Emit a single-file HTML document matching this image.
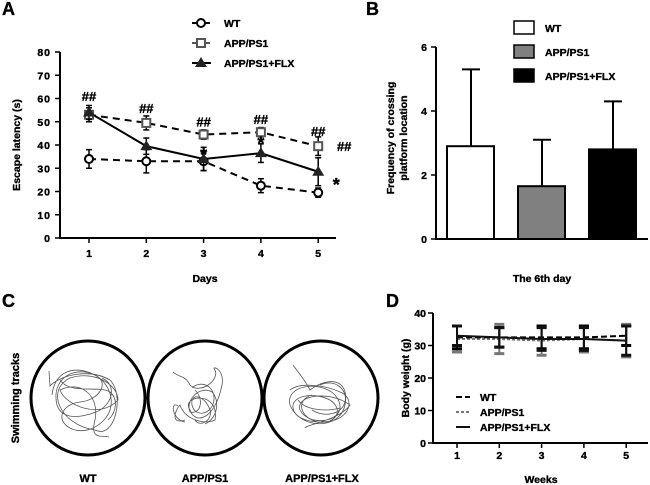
<!DOCTYPE html>
<html><head><meta charset="utf-8"><style>
body{margin:0;background:#fff;}
svg{display:block;font-family:"Liberation Sans",Arial,sans-serif;font-weight:bold;}
svg text{stroke:#000;stroke-width:0.35px;}
</style></head><body>
<svg id="fig" width="650" height="485" viewBox="0 0 650 485" xmlns="http://www.w3.org/2000/svg">
<text x="2" y="15" font-size="18" font-weight="900" stroke-width="1">A</text>
<text x="366" y="15" font-size="18" font-weight="900" stroke-width="1">B</text>
<text x="2" y="307" font-size="18" font-weight="900" stroke-width="1">C</text>
<text x="386" y="307" font-size="18" font-weight="900" stroke-width="1">D</text>
<g id="pa"></g>
<g id="pb"></g>
<g id="pc">
<text transform="translate(19,398) rotate(-90)" text-anchor="middle" font-size="11">Swimming tracks</text>
<circle cx="88" cy="398" r="57" fill="none" stroke="#000" stroke-width="3"/>
<circle cx="205" cy="398" r="57" fill="none" stroke="#000" stroke-width="3"/>
<circle cx="321" cy="398" r="57" fill="none" stroke="#000" stroke-width="3"/>
<path d="M49,371 L50,386 C60,375 90,368 110,380 C125,395 115,440 95,430 C60,425 45,390 70,378 C95,370 118,385 118,400 C100,420 65,405 60,390 C80,380 100,395 95,420 C90,440 100,435 109,437 M52,395 C55,370 75,365 95,375 C110,382 100,400 80,402 C62,404 55,420 70,428 C85,436 105,425 110,410 C115,395 105,375 85,372 C65,370 52,385 57,405 C62,420 80,418 96,412 C112,406 118,385 102,378 M60,380 C70,395 100,385 110,392 C118,398 117,412 108,420" fill="none" stroke="#555" stroke-width="0.8"/>
<path d="M173,372 C180,378 185,375 190,385 C200,395 220,380 215,370 C210,365 225,368 222,385 C215,420 195,425 190,410 C180,395 220,390 215,420 C205,425 185,420 180,405 C175,410 170,425 185,420 M192,388 C200,380 215,385 214,400 C212,415 195,418 192,405 C190,392 205,395 210,410 C213,420 200,428 195,420 M178,406 C170,400 172,420 185,422 M195,390 C205,400 200,415 190,412 C185,400 200,385 212,392 C220,400 218,418 205,424" fill="none" stroke="#555" stroke-width="0.8"/>
<path d="M293,365 C300,375 305,380 310,390 C330,375 350,380 345,405 C340,430 300,430 290,405 C285,385 320,380 335,395 C355,420 310,430 300,410 C295,395 330,390 350,405 C340,420 305,425 305,428 M290,390 C300,382 325,385 340,392 C355,398 350,415 335,420 C315,425 295,420 293,408 C291,395 315,392 330,400 C345,410 335,425 318,422 C300,418 295,400 312,395 M320,385 C335,378 348,390 345,402 C342,414 325,418 312,410 M298,400 C305,410 325,412 340,408" fill="none" stroke="#555" stroke-width="0.8"/>
<text x="88" y="482" text-anchor="middle" font-size="11">WT</text>
<text x="205" y="482" text-anchor="middle" font-size="11">APP/PS1</text>
<text x="322" y="482" text-anchor="middle" font-size="11">APP/PS1+FLX</text>
</g>
<g id="pd"></g>
</svg>
<script>
// Panel A data
const aDays = [1,2,3,4,5];
const aYTicks = [0,10,20,30,40,50,60,70,80];
const aWT = [34,33,33,22.5,19.5];
const aWTerr = [4,5,4,3,2];
const aAPP = [53,49.5,44.5,45.5,39.5];
const aAPPerr = [3,3,2,2,4];
const aFLX = [54,39.5,34,36.5,28.5];
const aFLXerr = [3,3.5,5,4,6];
// Panel B data
const bGroups = ["WT","APP/PS1","APP/PS1+FLX"];
const bMeans = [2.9,1.65,2.8];
const bErr = [2.4,1.45,1.5];
const bYTicks = [0,2,4,6];
// Panel D data
const dWeeks = [1,2,3,4,5];
const dYTicks = [0,10,20,30,40];
const dWT = [32.5,32.5,32.5,32.5,33];
const dWTerr = [3.5,3,3.5,3.5,3];
const dAPP = [32,32,31.5,32,31.5];
const dAPPerr = [4,4.5,4.5,4,5];
const dFLX = [33,32.5,32,32,31.5];
const dFLXerr = [3,3,3.5,3.5,4.5];

const NS="http://www.w3.org/2000/svg";
function mk(parent,tag,attrs,text){const e=document.createElementNS(NS,tag);for(const k in attrs)e.setAttribute(k,attrs[k]);if(text!==undefined)e.textContent=text;parent.appendChild(e);return e;}

// ---------- Panel A ----------
(function(){
const g=document.getElementById('pa');
const ax=v=>89+(v-1)*57.3, ay=v=>238-v*2.325;
let e=mk(g,'line',{x1:60,y1:ay(80),x2:60,y2:239,stroke:'#000','stroke-width':2});

e=mk(g,'line',{x1:59,y1:238,x2:336,y2:238,stroke:'#000','stroke-width':2});

aYTicks.forEach(t=>{mk(g,'line',{x1:55,y1:ay(t),x2:60,y2:ay(t),stroke:'#000','stroke-width':1.5});
 e=mk(g,'text',{x:51,y:ay(t)+4,'text-anchor':'end','font-size':10.5,'letter-spacing':'1'},t);
 });
aDays.forEach(d=>{mk(g,'line',{x1:ax(d),y1:238,x2:ax(d),y2:243,stroke:'#000','stroke-width':1.5});
 e=mk(g,'text',{x:ax(d),y:257,'text-anchor':'middle','font-size':10.5},d);
 });
e=mk(g,'text',{x:205,y:282,'text-anchor':'middle','font-size':10.5},'Days');

e=mk(g,'text',{transform:'translate(20,145) rotate(-90)','text-anchor':'middle','font-size':10.5},'Escape latency (s)');

function series(vals,errs,color,dash,marker,name){
 const pts=vals.map((v,i)=>ax(aDays[i])+','+ay(v)).join(' ');
 let l=mk(g,'polyline',{points:pts,fill:'none',stroke:color,'stroke-width':2,'stroke-dasharray':dash});
 
 vals.forEach((v,i)=>{const x=ax(aDays[i]);
  mk(g,'line',{x1:x,y1:ay(v+errs[i]),x2:x,y2:ay(v-errs[i]),stroke:color,'stroke-width':1.5});
  mk(g,'line',{x1:x-3,y1:ay(v+errs[i]),x2:x+3,y2:ay(v+errs[i]),stroke:color,'stroke-width':1.5});
  mk(g,'line',{x1:x-3,y1:ay(v-errs[i]),x2:x+3,y2:ay(v-errs[i]),stroke:color,'stroke-width':1.5});
  let m=marker(x,ay(v));});
}
series(aWT,aWTerr,'#000','7,5',(x,y)=>mk(g,'circle',{cx:x,cy:y,r:4,fill:'#fff',stroke:'#000','stroke-width':2}),'wt');
series(aAPP,aAPPerr,'#000','7,5',(x,y)=>mk(g,'rect',{x:x-4,y:y-4,width:8,height:8,fill:'#fff',stroke:'#555','stroke-width':2}),'app');
series(aFLX,aFLXerr,'#000','',(x,y)=>mk(g,'path',{d:`M${x},${y-6}L${x+6},${y+4}L${x-6},${y+4}Z`,fill:'#222'}),'flx');
const hashes=[[ax(1),ay(aAPP[0])-14],[ax(2),ay(aAPP[1])-10],[ax(3),ay(aAPP[2])-8],[ax(4),ay(aAPP[3])-8],[ax(5),ay(aAPP[4])-10],[ax(5)+26,ay(aAPP[4])+5]];
hashes.forEach(h=>{e=mk(g,'text',{x:h[0],y:h[1],'text-anchor':'middle','font-size':13},'##');});
[[ax(3),ay(37)],[ax(4),ay(42)],[ax(5)+18,ay(24)]].forEach(s=>{e=mk(g,'text',{x:s[0],y:s[1]+9,'text-anchor':'middle','font-size':18},'*');});
const leg=[['WT','7,4','c'],['APP/PS1','7,4','s'],['APP/PS1+FLX','','t']];
leg.forEach((L,i)=>{const y=23+i*20;
 mk(g,'line',{x1:192,y1:y,x2:211,y2:y,stroke:i==1?'#555':'#000','stroke-width':2,'stroke-dasharray':L[1]});
 if(L[2]=='c')mk(g,'circle',{cx:201,cy:y,r:4,fill:'#fff',stroke:'#000','stroke-width':2});
 if(L[2]=='s')mk(g,'rect',{x:197,y:y-4,width:8,height:8,fill:'#fff',stroke:'#555','stroke-width':2});
 if(L[2]=='t')mk(g,'path',{d:`M201,${y-6}L207,${y+4}L195,${y+4}Z`,fill:'#222'});
 e=mk(g,'text',{x:224,y:y+4,'font-size':10.5},L[0]);});
})();

// ---------- Panel B ----------
(function(){
const g=document.getElementById('pb');
const by=v=>239-v*32, bx=i=>447+i*71;
let e=mk(g,'line',{x1:436,y1:by(6),x2:436,y2:240,stroke:'#000','stroke-width':2});

e=mk(g,'line',{x1:435,y1:239,x2:648,y2:239,stroke:'#000','stroke-width':2});

bYTicks.forEach(t=>{mk(g,'line',{x1:431,y1:by(t),x2:436,y2:by(t),stroke:'#000','stroke-width':1.5});
 e=mk(g,'text',{x:427,y:by(t)+4,'text-anchor':'end','font-size':10.5},t);});
const fills=['#fff','#808080','#000'];
bMeans.forEach((v,i)=>{const x=bx(i);
 mk(g,'line',{x1:x+24,y1:by(v),x2:x+24,y2:by(v+bErr[i]),stroke:'#000','stroke-width':2});
 mk(g,'line',{x1:x+15,y1:by(v+bErr[i]),x2:x+33,y2:by(v+bErr[i]),stroke:'#000','stroke-width':2});
 let r=mk(g,'rect',{x:x,y:by(v),width:47,height:by(0)-by(v),fill:fills[i],stroke:'#000','stroke-width':2});
 });
e=mk(g,'text',{transform:'translate(394,138) rotate(-90)','text-anchor':'middle','font-size':10.5},'Frequency of crossing');

e=mk(g,'text',{transform:'translate(407,138) rotate(-90)','text-anchor':'middle','font-size':10.5},'platform location');

e=mk(g,'text',{x:542,y:282,'text-anchor':'middle','font-size':10.5},'The 6th day');

bGroups.forEach((n,i)=>{const y=21+i*24;
 mk(g,'rect',{x:514,y:y,width:20,height:13,fill:fills[i],stroke:'#000','stroke-width':1.5});
 e=mk(g,'text',{x:545,y:y+11,'font-size':10.5},n);});
})();

// ---------- Panel D ----------
(function(){
const g=document.getElementById('pd');
const dx=v=>457+(v-1)*42.3, dy=v=>443-v*3.25;
let e=mk(g,'line',{x1:433,y1:dy(40),x2:433,y2:444,stroke:'#000','stroke-width':2});

e=mk(g,'line',{x1:432,y1:443,x2:648,y2:443,stroke:'#000','stroke-width':2});

dYTicks.forEach(t=>{mk(g,'line',{x1:428,y1:dy(t),x2:433,y2:dy(t),stroke:'#000','stroke-width':1.5});
 e=mk(g,'text',{x:426,y:dy(t)+4,'text-anchor':'end','font-size':10.5},t);});
dWeeks.forEach(w=>{mk(g,'line',{x1:dx(w),y1:443,x2:dx(w),y2:448,stroke:'#000','stroke-width':1.5});
 e=mk(g,'text',{x:dx(w),y:459,'text-anchor':'middle','font-size':10.5},w);});
e=mk(g,'text',{x:541,y:483,'text-anchor':'middle','font-size':10.5},'Weeks');

e=mk(g,'text',{transform:'translate(409,378) rotate(-90)','text-anchor':'middle','font-size':10.5},'Body weight (g)');

function series(vals,errs,color,dash,name){
 vals.forEach((v,i)=>{const x=dx(dWeeks[i]);
  mk(g,'line',{x1:x,y1:dy(v+errs[i]),x2:x,y2:dy(v-errs[i]),stroke:color,'stroke-width':2});
  mk(g,'line',{x1:x-5,y1:dy(v+errs[i]),x2:x+5,y2:dy(v+errs[i]),stroke:color,'stroke-width':3});
  mk(g,'line',{x1:x-5,y1:dy(v-errs[i]),x2:x+5,y2:dy(v-errs[i]),stroke:color,'stroke-width':3});});
 let l=mk(g,'polyline',{points:vals.map((v,i)=>dx(dWeeks[i])+','+dy(v)).join(' '),fill:'none',stroke:color,'stroke-width':2,'stroke-dasharray':dash});
 
}
series(dAPP,dAPPerr,'#777','3,2','app');
series(dWT,dWTerr,'#000','6,3','wt');
series(dFLX,dFLXerr,'#111','','flx');
[['WT','6,3','#000'],['APP/PS1','3,2','#777'],['APP/PS1+FLX','','#111']].forEach((L,i)=>{const y=397+i*15;
 mk(g,'line',{x1:456,y1:y,x2:470,y2:y,stroke:L[2],'stroke-width':2,'stroke-dasharray':L[1]});
 e=mk(g,'text',{x:480,y:y+4,'font-size':10.5},L[0]);});
})();
</script>
</body></html>
